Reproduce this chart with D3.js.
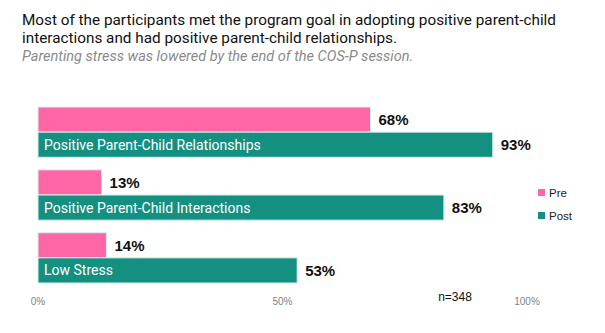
<!DOCTYPE html>
<html>
<head>
<meta charset="utf-8">
<script src="https://cdn.jsdelivr.net/npm/d3@7"></script>
<style>
  body { margin: 0; background: #fff; }
  svg { display: block; }
</style>
</head>
<body>
<div id="chart"></div>
<script>
// chart data
var categories = ["Positive Parent-Child Relationships", "Positive Parent-Child Interactions", "Low Stress"];
var preValues = [68, 13, 14];
var postValues = [93, 83, 53];
var seriesNames = ["Pre", "Post"];
var seriesColors = ["#ff66a6", "#139080"];
var tickValues = [0, 50, 100];

var title1 = "Most of the participants met the program goal in adopting positive parent-child";
var title2 = "interactions and had positive parent-child relationships.";
var subtitle = "Parenting stress was lowered by the end of the COS-P session.";
var note = "n=348";

var width = 605, height = 333;

var svg = d3.select("#chart")
  .append("svg")
    .attr("width", width)
    .attr("height", height);

// titles
svg.append("text")
  .attr("x", 22).attr("y", 25)
  .style("font-family", "Roboto, sans-serif")
  .style("font-size", "15.3px")
  .style("fill", "#111")
  .text(title1);
svg.append("text")
  .attr("x", 22).attr("y", 43)
  .style("font-family", "Roboto, sans-serif")
  .style("font-size", "15.3px")
  .style("fill", "#111")
  .text(title2);
svg.append("text")
  .attr("x", 22).attr("y", 61)
  .style("font-family", "Roboto, sans-serif")
  .style("font-size", "14.5px")
  .style("font-style", "italic")
  .style("fill", "#8a8a8a")
  .text(subtitle);

// scales
var x = d3.scaleLinear()
  .domain([0, 100])
  .range([38, 527]);

var y = d3.scaleBand()
  .domain(categories)
  .range([107, 283])
  .paddingInner(0.2)
  .paddingOuter(0);

var sub = d3.scaleBand()
  .domain(seriesNames)
  .range([0, y.bandwidth()]);

var rows = categories.map(function(c, i) {
  return { cat: c, values: [preValues[i], postValues[i]] };
});

var g = svg.append("g");

var groups = g.selectAll("g.row")
  .data(rows)
  .enter()
  .append("g")
    .attr("class", "row")
    .attr("transform", function(d) { return "translate(0," + y(d.cat) + ")"; });

groups.selectAll("rect")
  .data(function(d) { return d.values.map(function(v, j) { return { v: v, s: seriesNames[j], j: j }; }); })
  .enter()
  .append("rect")
    .attr("x", x(0))
    .attr("y", function(d) { return sub(d.s); })
    .attr("width", function(d) { return x(d.v) - x(0); })
    .attr("height", sub.bandwidth())
    .style("fill", function(d) { return seriesColors[d.j]; })
    .style("stroke", "#d8efec")
    .style("stroke-width", 1);

groups.selectAll("text.val")
  .data(function(d) { return d.values.map(function(v, j) { return { v: v, s: seriesNames[j] }; }); })
  .enter()
  .append("text")
    .attr("class", "val")
    .attr("x", function(d) { return x(d.v) + 8; })
    .attr("y", function(d) { return sub(d.s) + sub.bandwidth() / 2; })
    .attr("dy", "0.36em")
    .style("font-family", "'Liberation Sans', sans-serif")
    .style("font-weight", "bold")
    .style("font-size", "15px")
    .style("fill", "#111")
    .text(function(d) { return d.v + "%"; });

// category labels inside the post bar
groups.append("text")
  .attr("x", x(0) + 6)
  .attr("y", sub("Post") + sub.bandwidth() / 2)
  .attr("dy", "0.36em")
  .style("font-family", "Roboto, sans-serif")
  .style("font-size", "14px")
  .style("fill", "#fff")
  .text(function(d) { return d.cat; });

// x axis tick labels
svg.selectAll("text.tick")
  .data(tickValues)
  .enter()
  .append("text")
    .attr("class", "tick")
    .attr("x", function(d) { return x(d); })
    .attr("y", 305)
    .attr("text-anchor", "middle")
    .style("font-family", "'Liberation Sans', sans-serif")
    .style("font-size", "10px")
    .style("fill", "#7f7f7f")
    .text(function(d) { return d + "%"; });

svg.append("text")
  .attr("x", 455).attr("y", 301)
  .attr("text-anchor", "middle")
  .style("font-family", "'Liberation Sans', sans-serif")
  .style("font-size", "12px")
  .style("fill", "#111")
  .text(note);

// legend
var legend = svg.append("g")
  .attr("transform", "translate(538,189)");
var li = legend.selectAll("g")
  .data(seriesNames)
  .enter()
  .append("g")
    .attr("transform", function(d, i) { return "translate(0," + (i * 23) + ")"; });
li.append("rect")
  .attr("width", 7).attr("height", 7)
  .style("fill", function(d, i) { return seriesColors[i]; });
li.append("text")
  .attr("x", 11).attr("y", 4)
  .attr("dy", "0.35em")
  .style("font-family", "'Liberation Sans', sans-serif")
  .style("font-size", "11.5px")
  .style("fill", "#222")
  .text(function(d) { return d; });
</script>
</body>
</html>
